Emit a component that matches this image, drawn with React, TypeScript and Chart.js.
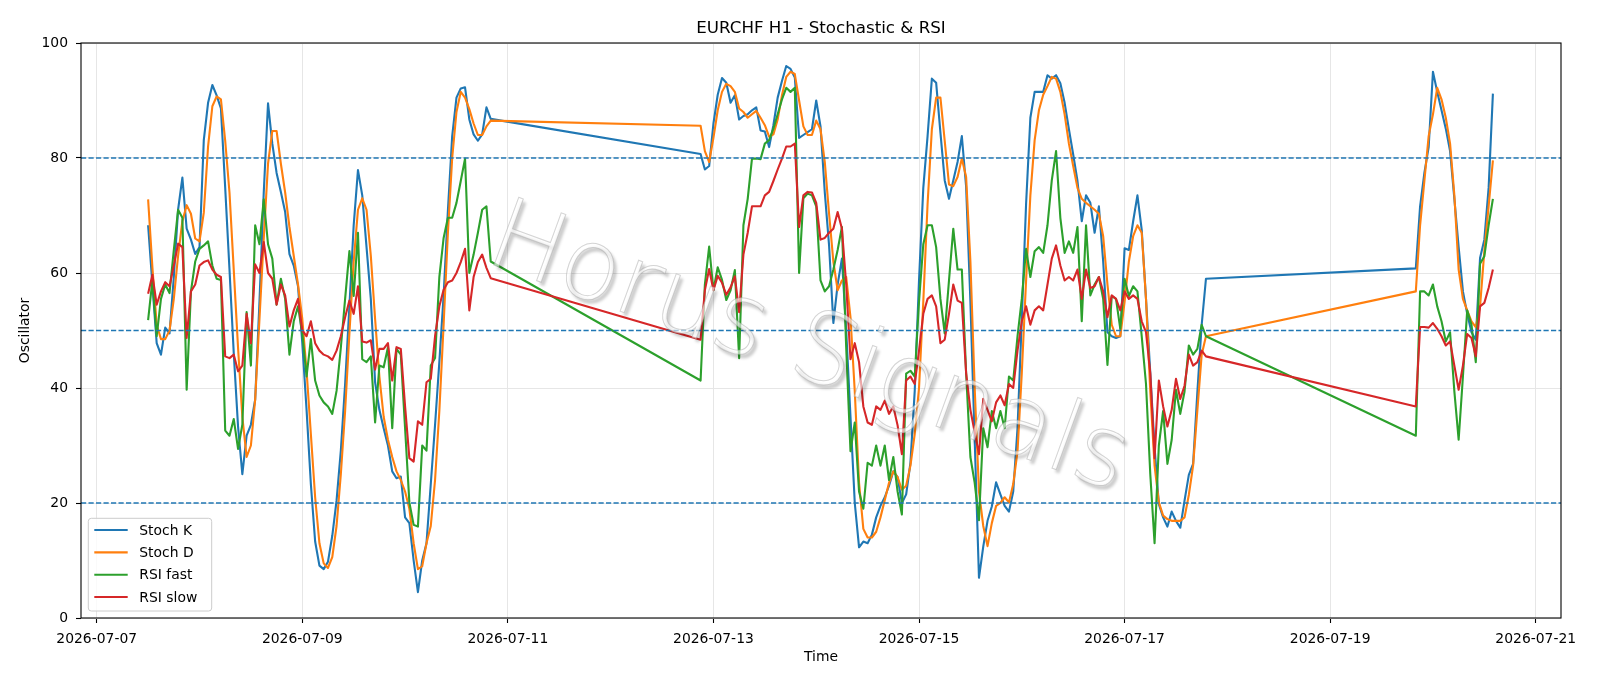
import React, { useEffect, useRef } from 'react';
import { Chart, registerables } from 'chart.js';

Chart.register(...registerables);

const FONT = '"DejaVu Sans", "Liberation Sans", sans-serif';
const TITLE = 'EURCHF H1 - Stochastic & RSI';
const X_LABEL = 'Time';
const Y_LABEL = 'Oscillator';
const WATERMARK = 'Horus Signals';

// trading sessions: first and last hourly bar, in hours since 2026-07-07 00:00
const SESSIONS: [number, number][] = [[12, 92], [141, 259], [308, 326]];

const TICK_HOURS = [0, 48, 96, 144, 192, 240, 288, 336];
const TICK_LABELS = ['2026-07-07', '2026-07-09', '2026-07-11', '2026-07-13', '2026-07-15', '2026-07-17', '2026-07-19', '2026-07-21'];
const X_MIN = -3.67;
const X_MAX = 341.9;
const Y_STEP = 20;
const LEVELS = [80, 50, 20];

const SERIES_NAMES = ['Stoch K', 'Stoch D', 'RSI fast', 'RSI slow'];
const SERIES_COLORS = ['#1f77b4', '#ff7f0e', '#2ca02c', '#d62728'];

const STOCH_K = [
  // session 1
  68.3, 58, 47.8, 45.8, 50.5, 49.5, 59.3, 71, 76.6, 67.7,
  65.8, 63.3, 64.5, 83.1, 89.6, 92.7, 90.9, 88.6, 74.8, 60.6,
  46, 33.3, 25, 31.7, 33.6, 38, 55, 74, 89.5, 82.5,
  77.4, 74.1, 70.6, 63.3, 61.3, 57.7, 47.8, 36.2, 23.3, 13.3,
  9.1, 8.5, 9.8, 14.3, 20.4, 29.1, 40.7, 54.2, 68.3, 77.9,
  73.5, 64.5, 55.5, 41, 36.2, 33, 30, 25.5, 24.3, 24.6,
  17.5, 16.5, 10, 4.5, 10, 13, 23.3, 33.6, 44.5, 56.1,
  70.9, 83.8, 90.5, 92.1, 92.3, 86.7, 84.1, 83, 84.1, 88.8,
  86.8,
  // session 2
  80.7, 78, 78.6, 86, 91, 93.9, 93.1, 89.6, 90.9, 86.7,
  87.3, 87.6, 88.3, 88.8, 84.8, 84.6, 81.9, 85.7, 90.5, 93.4,
  96, 95.5, 94, 83.5, 84, 84.5, 85, 90, 85.5, 74,
  64.8, 51.3, 58, 62.5, 50, 35, 20, 12.3, 13.3, 13,
  14.5, 17.5, 19.5, 21, 23, 25.5, 24.5, 20, 21.5, 27,
  39.5, 58.7, 74.8, 83.8, 93.8, 93.1, 84.4, 76.1, 72.9, 76.1,
  79.3, 83.8, 75, 55, 31, 7, 12.4, 16.9, 19.4, 23.6,
  21.5, 19.5, 18.5, 22, 33, 52, 72, 87, 91.5, 91.5,
  91.5, 94.4, 93.8, 94.4, 93, 89.6, 85, 80.6, 76, 69,
  73.5, 72.2, 67, 71.6, 62, 49.7, 49, 48.7, 49, 64.3,
  64, 69, 73.5, 67.5, 55.5, 42.6, 29.7, 19.8, 17.5, 15.9,
  18.5, 16.9, 15.7, 20.4, 24.9, 26.8, 39.4, 51, 59,
  // session 3
  60.8, 71.6, 77.4, 81.9, 95, 91.5, 88.3, 85.1, 81.2, 72.9,
  64.5, 56.8, 52.9, 49.7, 48.4, 62.6, 65.8, 74.8, 91.2,
];

const STOCH_D = [
  72.8, 61, 51, 48.5, 48.5, 50, 55.5, 63, 69, 71.8,
  70.3, 66, 65.5, 70.5, 82, 89, 90.7, 90.2, 83, 74,
  60.5, 47, 35, 28, 30, 38, 52, 66, 79, 84.7,
  84.7, 79, 74, 68, 63, 58, 52, 43, 32, 21,
  13, 9.5, 8.7, 10.6, 16, 25, 36, 49.5, 62, 71,
  73, 71, 63, 52, 42, 35, 31, 28, 25.5, 24,
  22, 19, 13, 8.5, 9, 13, 16, 24, 36, 51,
  67, 80, 88, 91.5, 90.5, 88.5, 86, 84, 84, 85.5,
  86.5,
  85.6, 81.2, 79.3, 83.5, 88.3, 91.5, 92.9, 92.5, 91.5, 88.6,
  88, 87, 87.6, 88.2, 87, 85.7, 83.7, 84.1, 86.7, 90.9,
  94.1, 95, 94.6, 90, 85.5, 84, 84, 86.5, 85, 79.3,
  70.3, 62, 57, 58.7, 59.3, 52.3, 39.4, 23.5, 15.5, 14,
  14, 15, 17.5, 20.5, 23.5, 25.5, 24.5, 22.3, 23, 26.5,
  32, 40, 55, 72, 85, 90.5, 90.5, 83, 75.4, 75.1,
  76.7, 79.9, 76.7, 62, 40, 22, 16, 12.5, 16.5, 19.5,
  20, 21, 20.1, 23.3, 29, 42.6, 58.7, 73.5, 83.1, 88.3,
  91, 92.5, 94.1, 93.8, 91.5, 87.6, 82.5, 78.6, 74.8, 72.9,
  72.2, 71.6, 71, 70.3, 66.4, 58, 51, 49, 49, 55,
  62, 66.4, 68.3, 67, 55.5, 39.4, 26.5, 20.1, 17.8, 17.2,
  16.9, 16.9, 16.9, 17.5, 21.4, 26.5, 36.2, 45.8, 49,
  56.8, 68.3, 76, 83.8, 87.6, 92.2, 90.2, 87, 82.5, 73.5,
  60.6, 55.5, 53.5, 51.6, 50.6, 54.2, 63.8, 71.6, 79.6,
];

const RSI_FAST = [
  51.8, 58.7, 49, 55.5, 58, 56.5, 64, 71, 69.6, 39.7,
  56.8, 62, 64.2, 64.8, 65.5, 61.3, 59, 58.8, 32.6, 31.7,
  34.6, 29.4, 33.6, 53.2, 43.9, 68.3, 65, 72.8, 65, 62.5,
  54.5, 59, 55.5, 45.8, 51.6, 54.2, 49.5, 42, 48.5, 41.3,
  38.7, 37.5, 36.8, 35.5, 39.5, 47, 55.5, 63.8, 56, 67,
  45, 44.5, 45.5, 34, 43.9, 43.6, 47.1, 33, 46.8, 45.8,
  33, 20.1, 16.2, 15.9, 30, 29.1, 43.9, 45.2, 59.3, 66.1,
  69.6, 69.6, 72.2, 76, 79.9, 60, 63.2, 67, 71, 71.6,
  62,
  41.3, 58, 64.6, 57, 61, 58.8, 55.3, 57, 60.5, 45.2,
  68.3, 72.9, 79.9, 79.9, 79.8, 82.5, 83.1, 85.1, 87.6, 90.2,
  92.2, 91.5, 92.2, 60, 73, 73.8, 73.5, 71.6, 58.7, 56.8,
  57.7, 60.6, 64, 68, 47, 29, 34, 22, 19, 27,
  26.5, 30, 26.5, 30, 24, 28, 22, 18, 42.5, 43,
  42, 55, 65, 68.3, 68.3, 64.5, 55.5, 49.5, 58.7, 67.7,
  60.6, 60.6, 42.6, 28, 23.5, 17, 33, 29.7, 36, 33,
  36, 33, 42, 41.3, 49, 55.5, 64.2, 59.3, 63.8, 64.5,
  63.5, 68.3, 76.1, 81.2, 69.6, 63.5, 65.5, 63.5, 68, 51.6,
  68.3, 56.1, 58, 59.3, 55.5, 44, 56, 55.5, 50.3, 59,
  56, 57.7, 56.8, 49, 40.7, 25, 13, 30, 36, 26.8,
  31, 39.7, 35.5, 39.4, 47.4, 45.8, 46.8, 51, 49,
  31.7, 56.8, 56.8, 56.1, 58, 54.2, 51.6, 48.1, 49.7, 39.4,
  31, 42, 53.5, 51, 44.5, 61.6, 62.9, 68.3, 72.9,
];

const RSI_SLOW = [
  56.4, 59.7, 54.5, 56.8, 58.4, 57.7, 61.3, 65.1, 64.5, 48.7,
  56.8, 58, 61.3, 61.9, 62.2, 60.6, 59.7, 59.3, 45.5, 45.2,
  45.8, 42.9, 43.9, 52.9, 47.8, 61.5, 60, 65.4, 60, 59,
  54.5, 58, 56.1, 50.7, 53.5, 55.5, 50, 49, 51.6, 47.8,
  46.5, 45.8, 45.5, 44.9, 46.5, 49, 52.3, 55.2, 52.9, 57.7,
  48.1, 47.9, 48.3, 43.2, 46.8, 46.8, 47.8, 41.3, 47.1, 46.8,
  36.8, 27.8, 27.2, 34.2, 33.6, 41, 41.6, 49, 54.2, 57.1,
  58.4, 58.7, 60, 61.9, 64.2, 53.5, 59.3, 61.9, 63.2, 60.9,
  59.1,
  48.4, 57, 60.7, 57, 59.5, 58.3, 56.2, 57.5, 59.4, 53.2,
  63.2, 67, 71.6, 71.6, 71.6, 73.5, 74.1, 76, 78, 79.9,
  82, 82, 82.5, 68, 73.5, 74.1, 74, 72.2, 65.8, 66.1,
  67, 67.7, 70.6, 67.7, 58, 45, 47.8, 44.5, 36.8, 34,
  33.6, 36.8, 36.2, 37.8, 35.5, 36.8, 33.5, 28.5, 41.3, 42,
  40.7, 46.5, 52.9, 55.5, 56.1, 54.2, 47.8, 48.4, 52.9, 58,
  55.2, 54.8, 42.6, 36.2, 32.3, 28.5, 38.1, 36.2, 34.2, 37.5,
  38.7, 37, 40.7, 40, 46.5, 51.6, 54.2, 51, 53.5, 54.2,
  53.5, 58, 62.5, 64.8, 61.3, 58.7, 59.3, 58.7, 60.6, 55.5,
  60.6, 57.4, 57.7, 59.3, 56.8, 52.3, 56.1, 55.5, 53.5, 56.8,
  55.5, 56.1, 55.5, 51.6, 49.7, 42.6, 27.8, 41.3, 36.8, 33.3,
  36.2, 41.6, 38.1, 40.4, 45.8, 43.9, 44.5, 46.5, 45.5,
  36.8, 50.6, 50.6, 50.5, 51.3, 50.3, 49, 47.4, 48.1, 43.9,
  39.7, 43.9, 49.4, 48.7, 45.5, 54.2, 54.8, 57.4, 60.6,
];

const SERIES_VALUES = [STOCH_K, STOCH_D, RSI_FAST, RSI_SLOW];

export default function App() {
  const ref = useRef<HTMLCanvasElement>(null);

  useEffect(() => {
    document.body.style.margin = '0';
    const canvas = ref.current;
    if (!canvas) return;

    const hours: number[] = SESSIONS.flatMap(([a, b]) =>
      Array.from({ length: b - a + 1 }, (_, i) => a + i)
    );

    const datasets: any[] = SERIES_NAMES.map((name, i) => ({
      label: name,
      data: SERIES_VALUES[i].map((y, k) => ({ x: hours[k], y })),
      borderColor: SERIES_COLORS[i],
      backgroundColor: SERIES_COLORS[i],
      borderWidth: 2.1,
      pointRadius: 0,
      tension: 0,
      fill: false,
      borderJoinStyle: 'round',
      order: 10 - i,
    }));
    LEVELS.forEach((lv) =>
      datasets.push({
        label: 'level ' + lv,
        data: [
          { x: X_MIN, y: lv },
          { x: X_MAX, y: lv },
        ],
        borderColor: '#1f77b4',
        borderWidth: 1.3,
        borderDash: [5.2, 2.3],
        pointRadius: 0,
        fill: false,
        order: 0,
      })
    );

    const overlay = {
      id: 'overlay',
      afterDatasetsDraw(chart: any) {
        const { ctx, chartArea } = chart;
        // watermark
        ctx.save();
        ctx.beginPath();
        ctx.rect(chartArea.left, chartArea.top, chartArea.right - chartArea.left, chartArea.bottom - chartArea.top);
        ctx.clip();
        ctx.translate(808, 352);
        ctx.rotate((20 * Math.PI) / 180);
        ctx.font = `300 99px ${FONT}`;
        ctx.textAlign = 'center';
        ctx.textBaseline = 'middle';
        ctx.shadowColor = 'rgba(0,0,0,0.35)';
        ctx.shadowOffsetX = 3;
        ctx.shadowOffsetY = 4;
        ctx.shadowBlur = 3;
        ctx.fillStyle = 'rgba(255,255,255,0.6)';
        ctx.fillText(WATERMARK, 0, 0);
        ctx.shadowColor = 'transparent';
        ctx.lineWidth = 1;
        ctx.strokeStyle = 'rgba(160,160,160,0.45)';
        ctx.strokeText(WATERMARK, 0, 0);
        ctx.restore();
      },
      afterDraw(chart: any) {
        const { ctx, chartArea } = chart;
        const { left, right, top, bottom } = chartArea;
        ctx.save();
        // frame
        ctx.strokeStyle = '#000';
        ctx.lineWidth = 1.1;
        ctx.strokeRect(left, top, right - left, bottom - top);
        // title and axis labels
        ctx.fillStyle = '#000';
        ctx.textAlign = 'center';
        ctx.textBaseline = 'alphabetic';
        ctx.font = `16.7px ${FONT}`;
        ctx.fillText(TITLE, (left + right) / 2, 33);
        ctx.font = `13.9px ${FONT}`;
        ctx.fillText(X_LABEL, (left + right) / 2, 661);
        ctx.save();
        ctx.translate(29, (top + bottom) / 2);
        ctx.rotate(-Math.PI / 2);
        ctx.fillText(Y_LABEL, 0, 0);
        ctx.restore();
        // legend
        const lx = 88.3, ly = 518.3, lw = 123.4, lh = 92.7, r = 3;
        ctx.beginPath();
        ctx.moveTo(lx + r, ly);
        ctx.lineTo(lx + lw - r, ly);
        ctx.quadraticCurveTo(lx + lw, ly, lx + lw, ly + r);
        ctx.lineTo(lx + lw, ly + lh - r);
        ctx.quadraticCurveTo(lx + lw, ly + lh, lx + lw - r, ly + lh);
        ctx.lineTo(lx + r, ly + lh);
        ctx.quadraticCurveTo(lx, ly + lh, lx, ly + lh - r);
        ctx.lineTo(lx, ly + r);
        ctx.quadraticCurveTo(lx, ly, lx + r, ly);
        ctx.closePath();
        ctx.fillStyle = 'rgba(255,255,255,0.8)';
        ctx.fill();
        ctx.strokeStyle = '#cccccc';
        ctx.lineWidth = 1;
        ctx.stroke();
        ctx.textAlign = 'left';
        ctx.textBaseline = 'middle';
        SERIES_NAMES.forEach((name, i) => {
          const y = 530 + i * 22.35;
          ctx.strokeStyle = SERIES_COLORS[i];
          ctx.lineWidth = 2.1;
          ctx.beginPath();
          ctx.moveTo(94.3, y);
          ctx.lineTo(127.7, y);
          ctx.stroke();
          ctx.fillStyle = '#000';
          ctx.fillText(name, 139.3, y + 1);
        });
        ctx.restore();
      },
    };

    const chart = new Chart(canvas, {
      type: 'line',
      data: { datasets },
      options: {
        animation: false,
        responsive: false,
        devicePixelRatio: 1,
        layout: { padding: { top: 43, right: 39, left: 0, bottom: 0 } },
        plugins: {
          legend: { display: false },
          title: { display: false },
          tooltip: { enabled: false },
        },
        scales: {
          x: {
            type: 'linear',
            min: X_MIN,
            max: X_MAX,
            afterFit: (s: any) => {
              s.height = 68;
            },
            afterBuildTicks: (s: any) => {
              s.ticks = TICK_HOURS.map((v) => ({ value: v }));
            },
            ticks: {
              autoSkip: false,
              maxRotation: 0,
              padding: 8,
              color: '#000',
              font: { family: FONT, size: 13.9 },
              callback: (v: any) => {
                const idx = TICK_HOURS.indexOf(Number(v));
                return idx >= 0 ? TICK_LABELS[idx] : '';
              },
            },
            grid: { color: '#e6e6e6', lineWidth: 1, tickColor: '#000', tickLength: 5, tickWidth: 1.1 },
            border: { display: false },
          },
          y: {
            min: 0,
            max: 100,
            afterFit: (s: any) => {
              s.width = 81;
            },
            ticks: {
              stepSize: Y_STEP,
              padding: 8,
              color: '#000',
              font: { family: FONT, size: 13.9 },
            },
            grid: { color: '#e6e6e6', lineWidth: 1, tickColor: '#000', tickLength: 5, tickWidth: 1.1 },
            border: { display: false },
          },
        },
      } as any,
      plugins: [overlay],
    });

    return () => chart.destroy();
  }, []);

  return (
    <div style={{ width: 1600, height: 686, background: '#fff' }}>
      <canvas ref={ref} width={1600} height={686} style={{ display: 'block' }} />
    </div>
  );
}
